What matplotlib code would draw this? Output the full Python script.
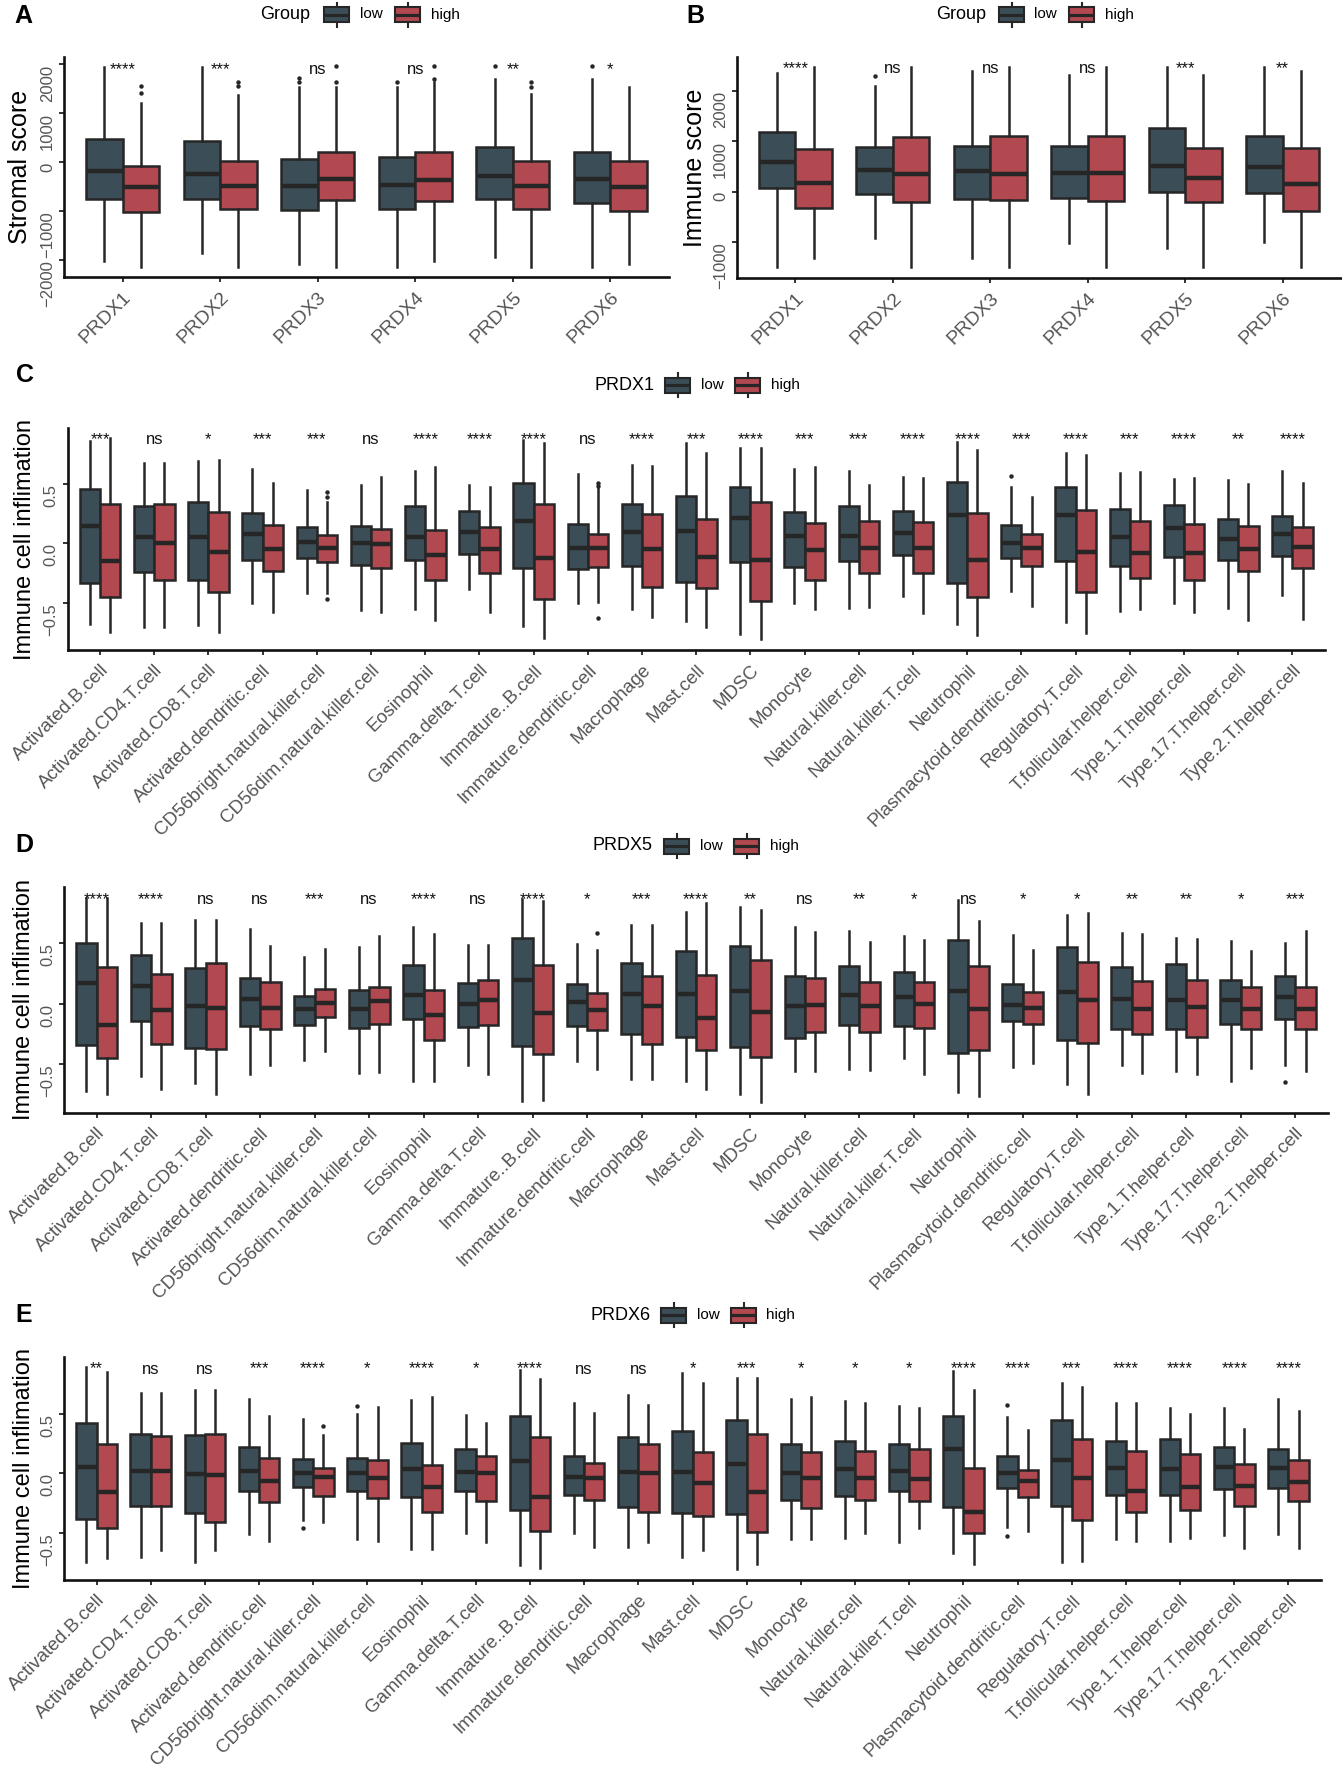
import matplotlib
matplotlib.use("Agg")
import matplotlib.pyplot as plt
import numpy as np
from matplotlib.patches import Rectangle

plt.rcParams['font.family'] = ['Liberation Sans', 'DejaVu Sans']

# ---------------- data ----------------
genes = ['PRDX1', 'PRDX2', 'PRDX3', 'PRDX4', 'PRDX5', 'PRDX6']
cells = ['Activated.B.cell', 'Activated.CD4.T.cell', 'Activated.CD8.T.cell',
         'Activated.dendritic.cell', 'CD56bright.natural.killer.cell',
         'CD56dim.natural.killer.cell', 'Eosinophil', 'Gamma.delta.T.cell',
         'Immature..B.cell', 'Immature.dendritic.cell', 'Macrophage', 'Mast.cell',
         'MDSC', 'Monocyte', 'Natural.killer.cell', 'Natural.killer.T.cell',
         'Neutrophil', 'Plasmacytoid.dendritic.cell', 'Regulatory.T.cell',
         'T.follicular.helper.cell', 'Type.1.T.helper.cell',
         'Type.17.T.helper.cell', 'Type.2.T.helper.cell']

# each row: [whisker low, q1, median, q3, whisker high]
stromal_low = [[-2018, -743, -177, 470, 1956], [-1861, -743, -239, 443, 1956],
               [-2079, -968, -484, 68, 1534], [-2147, -961, -470, 102, 1534],
               [-1943, -757, -273, 320, 1697], [-2147, -825, -341, 218, 1697]]
stromal_high = [[-2147, -1009, -498, -68, 1220], [-2147, -948, -484, 34, 1377],
                [-2147, -777, -341, 218, 1534], [-2011, -798, -361, 218, 1650],
                [-2147, -948, -484, 34, 1391], [-2079, -995, -498, 34, 1547]]
stromal_low_out = {2: [1718, 1650], 3: [1650], 4: [1970], 5: [1970]}
stromal_high_out = {0: [1561, 1411], 1: [1650, 1561], 2: [1970, 1650],
                    3: [1970, 1704], 4: [1650, 1547]}
stromal_sig = ['****', '***', 'ns', 'ns', '**', '*']

immune_low = [[-1492, 86, 600, 1195, 2363], [-917, -46, 436, 898, 2099],
              [-1314, -139, 416, 917, 2396], [-1003, -125, 370, 917, 2323],
              [-1116, -7, 521, 1261, 2482], [-983, -26, 488, 1109, 2482]]
immune_high = [[-1314, -310, 172, 858, 2482], [-1492, -205, 356, 1083, 2482],
               [-1492, -158, 356, 1116, 2482], [-1492, -178, 383, 1116, 2482],
               [-1479, -205, 284, 878, 2323], [-1479, -370, 158, 865, 2396]]
immune_low_out = {1: [2297]}
immune_high_out = {}
immune_sig = ['****', 'ns', 'ns', 'ns', '***', '**']

prdx1_low = [[-0.676, -0.330, 0.148, 0.453, 0.860], [-0.704, -0.237, 0.050, 0.313, 0.670],
             [-0.684, -0.307, 0.050, 0.349, 0.693], [-0.503, -0.140, 0.078, 0.251, 0.623],
             [-0.419, -0.126, 0.008, 0.140, 0.447], [-0.559, -0.182, 0.000, 0.148, 0.489],
             [-0.550, -0.140, 0.050, 0.313, 0.609], [-0.385, -0.092, 0.092, 0.274, 0.489],
             [-0.690, -0.209, 0.190, 0.508, 0.866], [-0.503, -0.218, -0.036, 0.159, 0.581],
             [-0.553, -0.187, 0.092, 0.327, 0.656], [-0.648, -0.321, 0.106, 0.399, 0.838],
             [-0.763, -0.159, 0.215, 0.475, 0.802], [-0.503, -0.196, 0.064, 0.265, 0.623],
             [-0.545, -0.148, 0.061, 0.313, 0.606], [-0.441, -0.098, 0.084, 0.271, 0.559],
             [-0.679, -0.335, 0.237, 0.517, 0.852], [-0.397, -0.126, 0.006, 0.154, 0.469],
             [-0.656, -0.145, 0.237, 0.475, 0.760], [-0.564, -0.187, 0.056, 0.288, 0.587],
             [-0.497, -0.117, 0.126, 0.321, 0.539], [-0.545, -0.140, 0.036, 0.204, 0.531],
             [-0.433, -0.106, 0.075, 0.232, 0.609]]
prdx1_high = [[-0.746, -0.447, -0.145, 0.330, 0.885], [-0.704, -0.307, 0.000, 0.330, 0.670],
              [-0.746, -0.405, -0.075, 0.265, 0.698], [-0.578, -0.229, -0.047, 0.154, 0.503],
              [-0.413, -0.159, -0.042, 0.070, 0.349], [-0.578, -0.204, -0.008, 0.120, 0.559],
              [-0.642, -0.307, -0.098, 0.112, 0.637], [-0.578, -0.251, -0.047, 0.134, 0.475],
              [-0.796, -0.466, -0.126, 0.330, 0.844], [-0.489, -0.196, -0.042, 0.078, 0.461],
              [-0.620, -0.363, -0.047, 0.243, 0.648], [-0.698, -0.377, -0.112, 0.201, 0.760],
              [-0.804, -0.480, -0.140, 0.344, 0.796], [-0.553, -0.307, -0.056, 0.168, 0.637],
              [-0.536, -0.251, -0.042, 0.187, 0.489], [-0.581, -0.251, -0.042, 0.176, 0.545],
              [-0.768, -0.447, -0.140, 0.257, 0.782], [-0.522, -0.190, -0.042, 0.075, 0.391],
              [-0.749, -0.405, -0.075, 0.279, 0.740], [-0.553, -0.288, -0.078, 0.187, 0.595],
              [-0.573, -0.307, -0.084, 0.159, 0.545], [-0.642, -0.229, -0.047, 0.145, 0.497],
              [-0.637, -0.204, -0.034, 0.140, 0.508]]
prdx1_low_out = {17: [0.567]}
prdx1_high_out = {4: [0.43, 0.39, -0.466], 9: [0.503, 0.48, -0.623]}
prdx1_sig = ['***', 'ns', '*', '***', '***', 'ns', '****', '****', '****', 'ns', '****',
             '***', '****', '***', '***', '****', '****', '***', '****', '***', '****',
             '**', '****']

prdx5_low = [[-0.720, -0.343, 0.170, 0.503, 0.874], [-0.599, -0.143, 0.146, 0.404, 0.665],
             [-0.654, -0.365, -0.019, 0.294, 0.687], [-0.577, -0.187, 0.036, 0.214, 0.618],
             [-0.467, -0.173, -0.041, 0.060, 0.385], [-0.571, -0.201, -0.041, 0.110, 0.467],
             [-0.637, -0.124, 0.074, 0.321, 0.632], [-0.508, -0.192, 0.000, 0.173, 0.486],
             [-0.805, -0.352, 0.198, 0.544, 0.865], [-0.475, -0.184, 0.014, 0.165, 0.495],
             [-0.618, -0.247, 0.082, 0.338, 0.646], [-0.637, -0.275, 0.077, 0.431, 0.755],
             [-0.747, -0.357, 0.102, 0.473, 0.797], [-0.555, -0.283, -0.019, 0.225, 0.632],
             [-0.536, -0.179, 0.069, 0.310, 0.599], [-0.445, -0.184, 0.055, 0.261, 0.555],
             [-0.728, -0.404, 0.102, 0.522, 0.852], [-0.522, -0.143, -0.008, 0.159, 0.563],
             [-0.659, -0.302, 0.096, 0.467, 0.728], [-0.508, -0.212, 0.041, 0.302, 0.585],
             [-0.555, -0.212, 0.027, 0.330, 0.541], [-0.640, -0.170, 0.027, 0.192, 0.516],
             [-0.508, -0.124, 0.055, 0.225, 0.503]]
prdx5_high = [[-0.747, -0.445, -0.173, 0.302, 0.874], [-0.701, -0.335, -0.055, 0.242, 0.665],
              [-0.747, -0.371, -0.036, 0.338, 0.692], [-0.508, -0.212, -0.033, 0.179, 0.475],
              [-0.390, -0.110, 0.005, 0.124, 0.448], [-0.563, -0.165, 0.022, 0.137, 0.555],
              [-0.637, -0.297, -0.096, 0.115, 0.577], [-0.577, -0.179, 0.027, 0.198, 0.481],
              [-0.791, -0.418, -0.074, 0.316, 0.843], [-0.541, -0.220, -0.055, 0.088, 0.445],
              [-0.618, -0.335, -0.022, 0.228, 0.651], [-0.701, -0.379, -0.115, 0.234, 0.832],
              [-0.810, -0.440, -0.069, 0.357, 0.775], [-0.555, -0.234, -0.014, 0.214, 0.591],
              [-0.544, -0.234, -0.019, 0.179, 0.508], [-0.582, -0.201, 0.000, 0.179, 0.522],
              [-0.764, -0.385, -0.041, 0.310, 0.681], [-0.486, -0.170, -0.036, 0.096, 0.440],
              [-0.747, -0.321, 0.027, 0.343, 0.750], [-0.571, -0.247, -0.047, 0.187, 0.577],
              [-0.577, -0.275, -0.027, 0.198, 0.536], [-0.527, -0.206, -0.041, 0.137, 0.434],
              [-0.555, -0.206, -0.041, 0.137, 0.599]]
prdx5_low_out = {22: [-0.646]}
prdx5_high_out = {9: [0.582]}
prdx5_sig = ['****', '****', 'ns', 'ns', '***', 'ns', '****', 'ns', '****', '*', '***',
             '****', '**', 'ns', '**', '*', 'ns', '*', '*', '**', '**', '*', '***']

prdx6_low = [[-0.740, -0.385, 0.056, 0.427, 0.894], [-0.698, -0.274, 0.020, 0.327, 0.676],
             [-0.740, -0.330, -0.006, 0.321, 0.704], [-0.511, -0.145, 0.022, 0.223, 0.628],
             [-0.391, -0.117, 0.000, 0.120, 0.455], [-0.550, -0.148, 0.006, 0.131, 0.497],
             [-0.634, -0.201, 0.036, 0.257, 0.615], [-0.503, -0.148, 0.014, 0.209, 0.494],
             [-0.768, -0.307, 0.103, 0.480, 0.872], [-0.503, -0.182, -0.028, 0.148, 0.587],
             [-0.615, -0.279, 0.014, 0.307, 0.662], [-0.698, -0.330, 0.008, 0.355, 0.844],
             [-0.804, -0.341, 0.078, 0.447, 0.804], [-0.553, -0.223, 0.006, 0.243, 0.628],
             [-0.539, -0.187, 0.034, 0.271, 0.609], [-0.578, -0.145, 0.022, 0.243, 0.564],
             [-0.670, -0.279, 0.209, 0.483, 0.860], [-0.453, -0.126, 0.000, 0.145, 0.475],
             [-0.746, -0.271, 0.112, 0.447, 0.763], [-0.553, -0.182, 0.042, 0.271, 0.592],
             [-0.564, -0.182, 0.036, 0.293, 0.553], [-0.517, -0.131, 0.056, 0.218, 0.545],
             [-0.511, -0.126, 0.047, 0.201, 0.623]]
prdx6_high = [[-0.712, -0.461, -0.159, 0.243, 0.852], [-0.642, -0.274, 0.020, 0.313, 0.676],
              [-0.642, -0.405, -0.014, 0.335, 0.704], [-0.564, -0.237, -0.064, 0.131, 0.483],
              [-0.411, -0.187, -0.034, 0.042, 0.321], [-0.564, -0.209, -0.036, 0.117, 0.559],
              [-0.634, -0.321, -0.112, 0.075, 0.642], [-0.573, -0.229, 0.000, 0.145, 0.425],
              [-0.796, -0.480, -0.196, 0.302, 0.791], [-0.620, -0.223, -0.042, 0.084, 0.503],
              [-0.578, -0.327, 0.000, 0.243, 0.578], [-0.642, -0.358, -0.084, 0.176, 0.763],
              [-0.763, -0.494, -0.159, 0.335, 0.804], [-0.553, -0.293, -0.042, 0.182, 0.642],
              [-0.497, -0.223, -0.042, 0.187, 0.587], [-0.461, -0.232, -0.047, 0.201, 0.553],
              [-0.763, -0.503, -0.327, 0.047, 0.698], [-0.480, -0.196, -0.064, 0.028, 0.363],
              [-0.732, -0.391, -0.042, 0.285, 0.726], [-0.564, -0.321, -0.145, 0.187, 0.595],
              [-0.545, -0.307, -0.112, 0.162, 0.497], [-0.628, -0.274, -0.106, 0.078, 0.369],
              [-0.628, -0.229, -0.070, 0.112, 0.522]]
prdx6_low_out = {4: [-0.461], 5: [0.564], 17: [0.573, -0.522]}
prdx6_high_out = {4: [0.397]}
prdx6_sig = ['**', 'ns', 'ns', '***', '****', '*', '****', '*', '****', 'ns', 'ns', '*',
             '***', '*', '*', '*', '****', '****', '***', '****', '****', '****', '****']

# ---------------- style ----------------
W, H = 1342, 1773
LOW_C = '#3B4E57'
HIGH_C = '#B24850'
EDGE = '#262626'
TICK_C = '#555555'

fig = plt.figure(figsize=(W / 100, H / 100), dpi=100)

# overlay in pixel coordinates for panel letters and legends
ov = fig.add_axes([0, 0, 1, 1], zorder=0)
ov.set_xlim(0, W)
ov.set_ylim(H, 0)
ov.axis('off')


def px_rect(left, top, right, bottom):
    return [left / W, 1 - bottom / H, (right - left) / W, (bottom - top) / H]


def draw_panel(rect, cats, low, high, low_out, high_out, sig, sig_y, ylim,
               yticks, yfmt, ylabel, label_x, xfs):
    ax = fig.add_axes(rect, zorder=1)
    ax.set_facecolor('none')
    x = np.arange(len(cats))
    for rows, outs, off, col in ((low, low_out, -0.1875, LOW_C),
                                 (high, high_out, 0.1875, HIGH_C)):
        stats = []
        for i, s in enumerate(rows):
            stats.append(dict(whislo=s[0], q1=s[1], med=s[2], q3=s[3],
                              whishi=s[4], fliers=outs.get(i, [])))
        ax.bxp(stats, positions=x + off, widths=0.375, patch_artist=True,
               showcaps=False, manage_ticks=False,
               boxprops=dict(facecolor=col, edgecolor=EDGE, linewidth=1.8),
               medianprops=dict(color=EDGE, linewidth=3.2, solid_capstyle='butt'),
               whiskerprops=dict(color=EDGE, linewidth=1.8),
               flierprops=dict(marker='o', markersize=3.2, markerfacecolor=EDGE,
                               markeredgecolor='none'))
    for i, s in enumerate(sig):
        ax.text(i, sig_y, s, ha='center', va='baseline', fontsize=12, color='#111111')
    ax.set_xlim(-0.6, len(cats) - 0.4)
    ax.set_ylim(*ylim)
    ax.set_xticks(x)
    ax.set_xticklabels(cats, rotation=45, ha='right', va='top',
                       rotation_mode='anchor', fontsize=xfs, color=TICK_C)
    ax.set_yticks(yticks, labels=[(yfmt % v).replace('-', '\u2212') for v in yticks],
                  rotation=90, va='top', ha='right', fontsize=12, color=TICK_C)
    ax.tick_params(axis='both', direction='out', length=3.5, width=1.4, color='#333333')
    ax.tick_params(axis='x', pad=5)
    ax.tick_params(axis='y', pad=3)
    for side in ('top', 'right'):
        ax.spines[side].set_visible(False)
    for side in ('left', 'bottom'):
        ax.spines[side].set_linewidth(1.9)
        ax.spines[side].set_color('#111111')
    ax.set_ylabel(ylabel, fontsize=18 if xfs > 13.6 else 17, va='center')
    ax.yaxis.set_label_coords(label_x, 0.5)
    return ax


def draw_key(x0, x1, yc, color):
    ov.add_patch(Rectangle((x0, yc - 7.5), x1 - x0, 15, facecolor=color,
                           edgecolor=EDGE, linewidth=1.5))
    ov.plot([x0, x1], [yc, yc], color=EDGE, lw=2.3, solid_capstyle='butt')
    xm = (x0 + x1) / 2
    ov.plot([xm, xm], [yc - 12, yc - 7.5], color=EDGE, lw=1.5)
    ov.plot([xm, xm], [yc + 7.5, yc + 12], color=EDGE, lw=1.5)


def draw_legend(title, tx, yc, k1, l1, k2, l2):
    ov.text(tx, yc, title, ha='left', va='center', fontsize=13)
    draw_key(k1, k1 + 25, yc, LOW_C)
    ov.text(l1, yc, 'low', ha='left', va='center', fontsize=11)
    draw_key(k2, k2 + 25, yc, HIGH_C)
    ov.text(l2, yc, 'high', ha='left', va='center', fontsize=11)


# ---------------- panels ----------------
draw_panel(px_rect(64, 57, 669, 277), genes, stromal_low, stromal_high,
           stromal_low_out, stromal_high_out, stromal_sig, 1806, (-2346, 2153),
           [-2000, -1000, 0, 1000, 2000], '%d', 'Stromal score', -0.073, 14)
draw_panel(px_rect(737, 57, 1341, 278), genes, immune_low, immune_high,
           immune_low_out, immune_high_out, immune_sig, 2350, (-1703, 2673),
           [-1000, 0, 1000, 2000], '%d', 'Immune score', -0.07, 14)
draw_panel(px_rect(67.5, 428, 1325, 650), cells, prdx1_low, prdx1_high,
           prdx1_low_out, prdx1_high_out, prdx1_sig, 0.832, (-0.894, 0.966),
           [-0.5, 0.0, 0.5], '%.1f', 'Immune cell inflimation', -0.034, 13.5)
draw_panel(px_rect(64, 887, 1328, 1113), cells, prdx5_low, prdx5_high,
           prdx5_low_out, prdx5_high_out, prdx5_sig, 0.824, (-0.901, 0.962),
           [-0.5, 0.0, 0.5], '%.1f', 'Immune cell inflimation', -0.032, 13.5)
draw_panel(px_rect(64, 1357, 1321, 1580), cells, prdx6_low, prdx6_high,
           prdx6_low_out, prdx6_high_out, prdx6_sig, 0.838, (-0.894, 0.977),
           [-0.5, 0.0, 0.5], '%.1f', 'Immune cell inflimation', -0.032, 13.5)

# ---------------- letters and legends ----------------
for letter, lx, ly in (('A', 14, 16), ('B', 686, 16), ('C', 16, 375),
                       ('D', 15, 845), ('E', 15, 1315)):
    ov.text(lx, ly, letter, ha='left', va='center', fontsize=18, fontweight='bold')

draw_legend('Group', 260, 14.5, 324, 360, 395, 431)
draw_legend('Group', 936, 14.5, 999, 1034, 1069, 1105)
draw_legend('PRDX1', 594, 385, 665, 701, 735, 771)
draw_legend('PRDX5', 592, 846, 664, 700, 734, 770)
draw_legend('PRDX6', 590, 1315, 661, 697, 731, 766)

fig.savefig('out.png', dpi=100)
